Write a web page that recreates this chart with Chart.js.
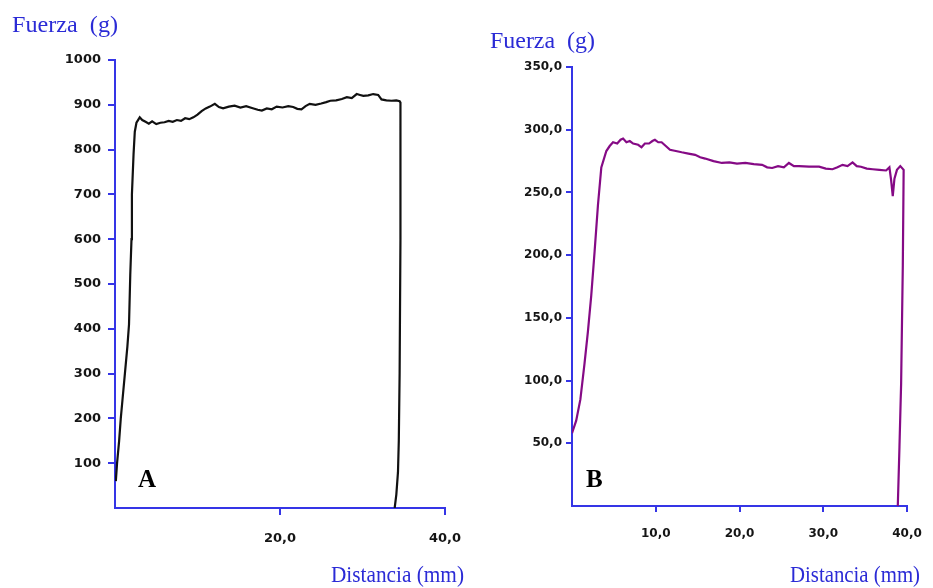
<!DOCTYPE html>
<html>
<head>
<meta charset="utf-8">
<script src="https://cdn.jsdelivr.net/npm/chart.js@4/dist/chart.umd.min.js"></script>
<style>
  html, body { margin: 0; padding: 0; background: #fff; }
  body { width: 933px; height: 588px; position: relative; overflow: hidden; }
  .cv { position: absolute; top: 0; }
  .lbl { position: absolute; white-space: pre; color: #2b2bd6; font-family: "Liberation Serif", "DejaVu Serif", serif; transform-origin: 0 0; line-height: 1; }
  .pan { position: absolute; font-family: "Liberation Serif", "Times New Roman", serif; font-weight: bold; color: #000; line-height: 1; }
</style>
</head>
<body>
<div class="cv" style="left:0;width:466px;height:588px;"><canvas id="cA" width="466" height="588"></canvas></div>
<div class="cv" style="left:466px;width:467px;height:588px;"><canvas id="cB" width="467" height="588"></canvas></div>

<div class="lbl" id="yA" data-w="106" style="left:12px;top:12px;font-size:24px;">Fuerza  (g)</div>
<div class="lbl" id="yB" data-w="105" style="left:490px;top:28px;font-size:24px;">Fuerza  (g)</div>
<div class="lbl" id="xA" data-w="133" style="left:331px;top:562px;font-size:24px;">Distancia (mm)</div>
<div class="lbl" id="xB" data-w="130" style="left:790px;top:562px;font-size:24px;">Distancia (mm)</div>
<div class="pan" style="left:138px;top:466px;font-size:25px;">A</div>
<div class="pan" style="left:586px;top:466px;font-size:25px;">B</div>

<script>
// ---- Data ----
const distA = [0.1,0.25,0.5,0.7,0.9,1.2,1.5,1.7,1.85,2.0,2.05,2.25,2.4,2.6,3.0,3.3,3.7,4.1,4.5,5.0,5.5,6.0,6.5,7.0,7.5,8.0,8.5,9.0,9.5,10.0,10.5,11.0,11.5,12.1,12.6,13.1,13.8,14.5,15.2,15.9,16.6,17.3,17.8,18.4,19.0,19.6,20.3,21.0,21.6,22.1,22.6,23.1,23.6,24.3,25.0,25.6,26.1,26.8,27.5,28.1,28.7,29.3,29.7,30.1,30.7,31.3,31.9,32.3,32.9,33.5,34.1,34.5,34.6,34.6,34.5,34.4,34.3,34.1,33.9];
const forceA = [60,100,150,200,240,300,360,410,520,600,700,790,840,860,872,866,862,858,863,857,860,861,864,862,866,864,870,868,872,878,886,892,896,902,895,892,896,898,894,897,893,889,887,892,890,896,894,897,895,891,890,897,902,900,903,906,909,910,913,917,915,924,922,920,921,924,922,912,910,909,910,908,905,600,300,150,80,30,0];

const distB = [0,0.5,1.0,1.5,1.9,2.3,2.7,3.1,3.5,4.1,4.5,4.9,5.4,5.8,6.1,6.5,6.9,7.3,7.9,8.3,8.7,9.2,9.6,9.9,10.3,10.7,11.2,11.7,12.4,13.1,13.9,14.7,15.3,15.9,16.9,17.9,18.8,19.7,20.7,21.7,22.7,23.3,23.9,24.6,25.3,25.9,26.5,27.1,28.3,29.5,30.3,31.1,31.7,32.3,32.9,33.5,34.0,34.5,35.2,35.9,36.7,37.5,37.9,38.1,38.3,38.5,38.8,39.2,39.6,39.5,39.3,39.1,38.9];
const forceB = [58,68,85,114,139,168,203,240,270,283,287,290,289,292,293,290,291,289,288,286,289,289,291,292,290,290,287,284,283,282,281,280,278,277,275,273.5,274,273,273.5,272.5,272,270,269.5,271,270,273.5,271,271,270.5,270.5,269,268.5,270,272,271,274,271,270.5,269,268.5,268,267.5,270,260,247,261,268,271,268,192,98,47,0];

const xTicksA = [20, 40];
const yTicksA = [100,200,300,400,500,600,700,800,900,1000];
const xTicksB = [10, 20, 30, 40];
const yTicksB = [50,100,150,200,250,300,350];

// ---- Styling ----
const AXIS = '#3535e6';
const comma = v => Number(v).toFixed(1).replace('.', ',');
const pts = (xs, ys) => xs.map((x, i) => ({ x: x, y: ys[i] }));

function makeChart(id, cfg) {
  return new Chart(document.getElementById(id), {
    type: 'scatter',
    data: { datasets: [{
      data: pts(cfg.xs, cfg.ys),
      showLine: true, borderColor: cfg.color, borderWidth: 2.2,
      pointRadius: 0, tension: 0, fill: false
    }]},
    options: {
      responsive: false, animation: false,
      layout: { padding: cfg.pad },
      plugins: { legend: { display: false }, tooltip: { enabled: false } },
      scales: {
        x: {
          type: 'linear', min: 0, max: 40,
          afterBuildTicks: s => { s.ticks = cfg.xTicks.map(v => ({ value: v })); },
          afterFit: s => { s.height = cfg.xH; s.paddingLeft = 0; s.paddingRight = 0; },
          ticks: { callback: v => comma(v), color: '#151515', padding: cfg.xPad, maxRotation: 0, autoSkip: false,
                   font: { family: 'DejaVu Sans', weight: 'bold', size: cfg.fs } },
          grid: { drawOnChartArea: false, drawTicks: true, tickLength: cfg.tl, color: AXIS, lineWidth: 2 },
          border: { display: true, color: AXIS, width: 2 }
        },
        y: {
          type: 'linear', min: 0, max: cfg.yMax,
          afterBuildTicks: s => { s.ticks = cfg.yTicks.map(v => ({ value: v })); },
          afterFit: s => { s.width = cfg.yW; s.paddingTop = 0; s.paddingBottom = 0; },
          ticks: { callback: cfg.yFmt, color: '#151515', padding: cfg.yPad, autoSkip: false,
                   font: { family: 'DejaVu Sans', weight: 'bold', size: cfg.fs } },
          grid: { drawOnChartArea: false, drawTicks: true, tickLength: cfg.tl, color: AXIS, lineWidth: 2 },
          border: { display: true, color: AXIS, width: 2 }
        }
      }
    }
  });
}

makeChart('cA', {
  xs: distA, ys: forceA, color: '#111111',
  xTicks: xTicksA, yTicks: yTicksA, yMax: 1000, yFmt: v => String(v),
  pad: { left: 0, top: 60, right: 21, bottom: 0 }, xH: 80, yW: 115,
  fs: 13, tl: 7, xPad: 16, yPad: 7
});
makeChart('cB', {
  xs: distB, ys: forceB, color: '#850a85',
  xTicks: xTicksB, yTicks: yTicksB, yMax: 350, yFmt: v => comma(v),
  pad: { left: 0, top: 67, right: 26, bottom: 0 }, xH: 82, yW: 106,
  fs: 12, tl: 6, xPad: 15, yPad: 4
});

// fit label widths to the reference
document.querySelectorAll('.lbl').forEach(el => {
  const w = parseFloat(el.dataset.w);
  const cur = el.getBoundingClientRect().width;
  if (cur > 0) el.style.transform = 'scaleX(' + (w / cur).toFixed(3) + ')';
});
</script>
</body>
</html>
